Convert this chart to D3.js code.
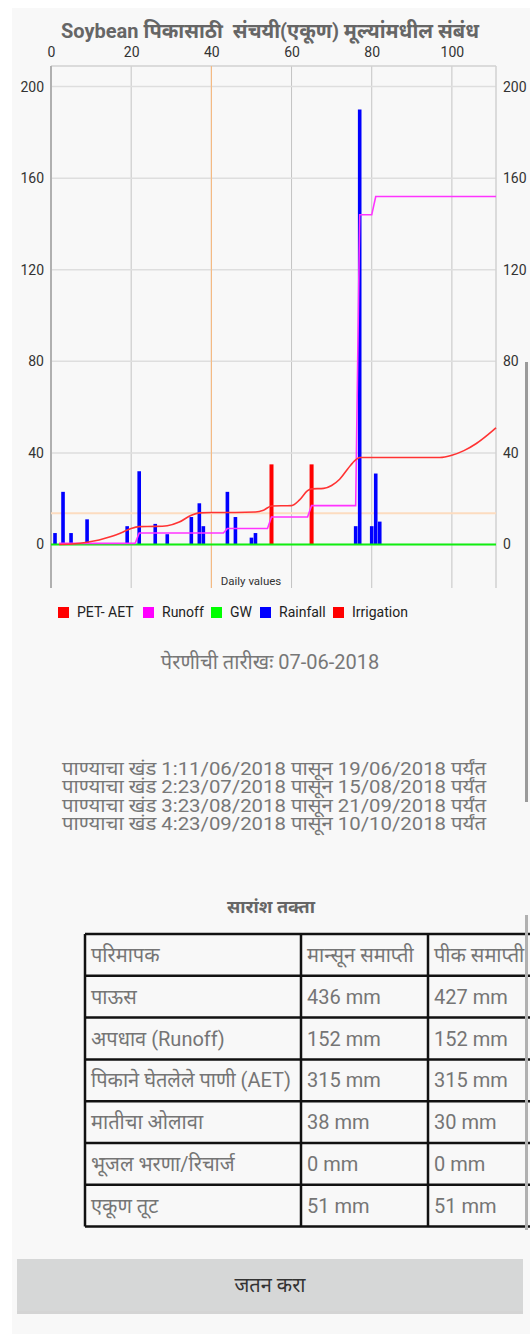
<!DOCTYPE html>
<html>
<head>
<meta charset="utf-8">
<script src="https://cdn.jsdelivr.net/npm/d3@7"></script>
<style>
  body { margin: 0; background: #fff; }
  svg { display: block; font-family: Roboto, "Noto Sans", "Noto Sans Devanagari", sans-serif; }
</style>
</head>
<body>
<div id="chart"></div>
<script>
// data
var xTicks = [0, 20, 40, 60, 80, 100];
var yTicks = [0, 40, 80, 120, 160, 200];

var rainDays = [1, 3, 5, 9, 19, 22, 26, 29, 35, 37, 38, 44, 46, 50, 51, 76, 77, 80, 81, 82];
var rainVals = [5, 23, 5, 11, 8, 32, 9, 4.5, 12, 18, 8, 23, 12, 3, 5, 8, 190, 8, 31, 10];

var irrDays = [55, 65];
var irrVals = [35, 35];

var petDays = [2, 6, 9, 12, 15, 18, 20, 22, 26, 29, 32, 35, 37, 40, 46, 51, 53, 55, 60, 62, 64, 65, 68, 70, 72, 74, 76, 77, 80, 97, 100, 103, 106, 109, 111];
var petVals = [0, 0.3, 1, 2, 3.5, 5.5, 7, 7.8, 7.9, 8.2, 9.8, 12.8, 13.8, 14, 14, 14.2, 15, 16.8, 17, 19.5, 23.5, 24.3, 24.5, 25.8, 28.5, 33, 37, 38, 38, 38, 39, 41, 44, 48, 51];

var runDays = [2, 21, 22, 43, 44, 54, 55, 64, 65, 76, 77, 80, 81, 111];
var runVals = [0.5, 0.5, 5, 5, 7, 7, 12, 12, 17, 17, 144, 144, 152, 152];

var gwDays = [0, 111];
var gwVals = [0, 0];

var limitX = 40;
var limitY = 13.7;

var legendNames = ['PET- AET', 'Runoff', 'GW', 'Rainfall', 'Irrigation'];
var legendColors = ['#ff0000', '#ff00ff', '#00ff00', '#0000ff', '#ff0000'];

var titleText = 'Soybean पिकासाठी  संचयी(एकूण) मूल्यांमधील संबंध';
var sowingText = 'पेरणीची तारीखः 07-06-2018';
var spellLines = [
  'पाण्याचा खंड 1:11/06/2018 पासून 19/06/2018 पर्यंत',
  'पाण्याचा खंड 2:23/07/2018 पासून 15/08/2018 पर्यंत',
  'पाण्याचा खंड 3:23/08/2018 पासून 21/09/2018 पर्यंत',
  'पाण्याचा खंड 4:23/09/2018 पासून 10/10/2018 पर्यंत'
];
var tableTitle = 'सारांश तक्ता';
var tableHead = ['परिमापक', 'मान्सून समाप्ती', 'पीक समाप्ती'];
var rowNames = ['पाऊस', 'अपधाव (Runoff)', 'पिकाने घेतलेले पाणी (AET)', 'मातीचा ओलावा', 'भूजल भरणा/रिचार्ज', 'एकूण तूट'];
var monsoonEnd = ['436 mm', '152 mm', '315 mm', '38 mm', '0 mm', '51 mm'];
var cropEnd = ['427 mm', '152 mm', '315 mm', '30 mm', '0 mm', '51 mm'];
var buttonText = 'जतन करा';

var W = 530, H = 1334;
var pL = 51, pR = 496, pT = 66, pB = 588;

var svg = d3.select('#chart').append('svg').attr('width', W).attr('height', H);

// page background
svg.append('rect').attr('x', 12).attr('y', 8).attr('width', W - 12).attr('height', H - 8).attr('fill', '#f8f8f8');

var x = d3.scaleLinear().domain([0, 111]).range([pL, pR]);
var y = d3.scaleLinear().domain([-19, 209]).range([pB, pT]);

// title
svg.append('text').attr('x', 270).attr('y', 38).attr('text-anchor', 'middle')
  .style('white-space', 'pre')
  .attr('font-size', 20).attr('font-weight', 'bold').attr('fill', '#666').text(titleText);

var plot = svg.append('g');

// grid
plot.selectAll('.vgrid').data(xTicks).enter().append('line')
  .attr('x1', d => x(d)).attr('x2', d => x(d)).attr('y1', pT).attr('y2', pB)
  .attr('stroke', '#c4c4c4').attr('stroke-width', 1);
plot.selectAll('.hgrid').data(yTicks).enter().append('line')
  .attr('x1', pL).attr('x2', pR).attr('y1', d => y(d)).attr('y2', d => y(d))
  .attr('stroke', '#dedede').attr('stroke-width', 1.5);
plot.append('line').attr('x1', pL).attr('x2', pR).attr('y1', pT).attr('y2', pT)
  .attr('stroke', '#d2d2d2').attr('stroke-width', 1.5);
plot.append('line').attr('x1', pR).attr('x2', pR).attr('y1', pT).attr('y2', pB)
  .attr('stroke', '#d2d2d2').attr('stroke-width', 1.5);
plot.append('line').attr('x1', pL).attr('x2', pL).attr('y1', pT).attr('y2', pB)
  .attr('stroke', '#b0b0b0').attr('stroke-width', 2);

// limit lines
plot.append('line').attr('x1', x(limitX)).attr('x2', x(limitX)).attr('y1', pT).attr('y2', pB)
  .attr('stroke', '#fbb878').attr('stroke-width', 1);
plot.append('line').attr('x1', pL).attr('x2', pR).attr('y1', y(limitY)).attr('y2', y(limitY))
  .attr('stroke', '#fcdcc0').attr('stroke-width', 2);

// axes
var axTop = svg.append('g').attr('transform', 'translate(0,' + pT + ')')
  .call(d3.axisTop(x).tickValues(xTicks).tickSize(0).tickPadding(9));
var axLeft = svg.append('g').attr('transform', 'translate(' + pL + ',0)')
  .call(d3.axisLeft(y).tickValues(yTicks).tickSize(0).tickPadding(7));
var axRight = svg.append('g').attr('transform', 'translate(' + pR + ',0)')
  .call(d3.axisRight(y).tickValues(yTicks).tickSize(0).tickPadding(7));
[axTop, axLeft, axRight].forEach(function (a) {
  a.select('.domain').remove();
  a.selectAll('text').attr('font-size', 14).attr('fill', '#333')
    .attr('font-family', 'Roboto, sans-serif');
});

svg.append('text').attr('x', 251).attr('y', 585).attr('text-anchor', 'middle')
  .attr('font-size', 11.5).attr('fill', '#333').text('Daily values');

// bars
var bw = x(0.9) - x(0);
plot.selectAll('.rain').data(rainDays).enter().append('rect')
  .attr('x', (d, i) => x(d) - bw / 2).attr('width', bw)
  .attr('y', (d, i) => y(rainVals[i])).attr('height', (d, i) => y(0) - y(rainVals[i]))
  .attr('fill', '#0000ff');
var iw = x(1) - x(0);
plot.selectAll('.irr').data(irrDays).enter().append('rect')
  .attr('x', (d, i) => x(d) - iw / 2).attr('width', iw)
  .attr('y', (d, i) => y(irrVals[i])).attr('height', (d, i) => y(0) - y(irrVals[i]))
  .attr('fill', '#ff0000');

// lines
function series(days, vals) { return days.map((d, i) => [d, vals[i]]); }
var lineSmooth = d3.line().x(d => x(d[0])).y(d => y(d[1])).curve(d3.curveMonotoneX);
var lineStep = d3.line().x(d => x(d[0])).y(d => y(d[1]));

plot.append('path').datum(series(gwDays, gwVals)).attr('d', lineStep)
  .attr('fill', 'none').attr('stroke', '#11ee11').attr('stroke-width', 2);
plot.append('path').datum(series(runDays, runVals)).attr('d', lineStep)
  .attr('fill', 'none').attr('stroke', '#ff33ff').attr('stroke-width', 1.6);
plot.append('path').datum(series(petDays, petVals)).attr('d', lineSmooth)
  .attr('fill', 'none').attr('stroke', '#ff3333').attr('stroke-width', 1.6);

// legend
var legX = [58, 143, 211, 260, 333];
var leg = svg.append('g');
legendNames.forEach(function (n, i) {
  leg.append('rect').attr('x', legX[i]).attr('y', 607).attr('width', 11).attr('height', 11).attr('fill', legendColors[i]);
  leg.append('text').attr('x', legX[i] + 19).attr('y', 617).attr('font-size', 14).attr('fill', '#222').text(n);
});

// texts below chart
svg.append('text').attr('x', 270).attr('y', 669).attr('text-anchor', 'middle')
  .attr('font-size', 20).attr('fill', '#777').text(sowingText);
svg.selectAll('.spell').data(spellLines).enter().append('text')
  .attr('x', 274).attr('y', (d, i) => 775 + i * 18.3).attr('text-anchor', 'middle')
  .attr('font-size', 18.5).attr('textLength', 424).attr('lengthAdjust', 'spacingAndGlyphs')
  .attr('fill', '#777').text(d => d);

svg.append('text').attr('x', 271).attr('y', 913).attr('text-anchor', 'middle')
  .attr('font-size', 18).attr('font-weight', 'bold').attr('fill', '#666').text(tableTitle);

// summary table
var colX = [85, 301, 428, 545];
var rowH = 41.8, tTop = 934;
var rows = [tableHead].concat(rowNames.map((r, i) => [r, monsoonEnd[i], cropEnd[i]]));
var tbl = svg.append('g');
rows.forEach(function (r, i) {
  r.forEach(function (c, j) {
    tbl.append('text').attr('x', colX[j] + 6).attr('y', tTop + i * rowH + rowH / 2 + 7)
      .attr('font-size', 20).attr('fill', '#757575').text(c);
  });
});
for (var i = 0; i <= rows.length; i++) {
  tbl.append('line').attr('x1', colX[0]).attr('x2', colX[3]).attr('y1', tTop + i * rowH).attr('y2', tTop + i * rowH)
    .attr('stroke', '#111').attr('stroke-width', 2.5);
}
colX.forEach(function (cx) {
  tbl.append('line').attr('x1', cx).attr('x2', cx).attr('y1', tTop).attr('y2', tTop + rows.length * rowH)
    .attr('stroke', '#111').attr('stroke-width', 2.5);
});

// button
svg.append('rect').attr('x', 17).attr('y', 1261).attr('width', 506).attr('height', 53).attr('fill', '#bdbdbd').attr('opacity', 0.6);
svg.append('rect').attr('x', 17).attr('y', 1259).attr('width', 506).attr('height', 52).attr('fill', '#d6d7d7');
svg.append('text').attr('x', 270).attr('y', 1292).attr('text-anchor', 'middle')
  .attr('font-size', 20).attr('fill', '#333').text(buttonText);

// scroll indicators
svg.append('rect').attr('x', 525).attr('y', 362).attr('width', 3).attr('height', 440).attr('fill', '#9a9a9a');
svg.append('rect').attr('x', 525).attr('y', 915).attr('width', 3).attr('height', 315).attr('fill', '#b0b0b0');
</script>
</body>
</html>
